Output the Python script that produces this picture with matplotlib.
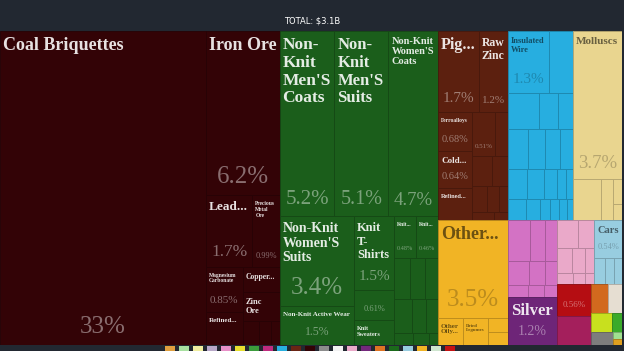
import matplotlib
matplotlib.use("Agg")
import matplotlib.pyplot as plt
import numpy as np
from matplotlib.patches import Rectangle
from matplotlib.colors import to_rgb
from matplotlib.font_manager import FontProperties

# ---- data: share of total exports (%) ----
coal = ("Coal Briquettes", 33.0)
iron = ("Iron Ore", 6.2)
lead_row = [("Lead...", 1.7), ("Precious Metal Ore", 0.99)]
magnesium_col = [("Magnesium Carbonate", 0.85), ("Refined...", 0.62)]
copper = ("Copper...", 0.48)
zinc = ("Zinc Ore", 0.55)
zinc_small = [0.2, 0.15, 0.1]

textile_top = [("Non-Knit Men'S Coats", 5.2), ("Non-Knit Men'S Suits", 5.1),
               ("Non-Knit Women'S Coats", 4.7)]
suits_col = [("Non-Knit Women'S Suits", 3.4), ("Non-Knit Active Wear", 1.5)]
knit_col = [("Knit T-Shirts", 1.5), ("", 0.61), ("Knit Sweaters", 0.5)]
knit_row = [("Knit...", 0.48), ("Knit...", 0.46)]
knit_small = [[0.35, 0.3, 0.28], [0.3, 0.25, 0.2], [0.12, 0.1, 0.06]]

metals_top = [("Pig...", 1.7), ("Raw Zinc", 1.2)]
metals_left = [("Ferroalloys", 0.68), ("Cold...", 0.64), ("Refined...", 0.56)]
metals_mid = [("", 0.51), ("", 0.29)]
metals_small = [[0.3, 0.25], [0.2, 0.15, 0.12], [0.1, 0.06]]

machinery_top = [("Insulated Wire", 1.3), ("Electrical Transformers", 0.76)]
vehicles = ("Large Construction Vehicles", 0.58)
machinery_small = [[0.35, 0.28], [0.4, 0.35, 0.3, 0.25], [0.3, 0.25, 0.2, 0.15, 0.1],
                   [0.2, 0.15, 0.12, 0.1, 0.08, 0.07]]

molluscs = ("Molluscs", 3.7)
animal_row = [("Crustaceans", 0.59), ("Fish Fillets", 0.25)]
animal_small = [0.12, 0.08]

other = ("Other...", 3.5)
other_row = [("Other Oily...", 0.35), ("Dried Legumes", 0.35)]
other_small = [0.15, 0.13]

hydrogen = ("Hydrogen", 0.45)
chem_small = [[0.3, 0.25], [0.25, 0.2, 0.15], [0.12, 0.1, 0.08]]
silver = ("Silver", 1.2)
plastics_small = [[0.3, 0.22], [0.2, 0.16, 0.12], [0.09, 0.07, 0.05]]
cars = ("Cars", 0.54)
cars_small = [0.15, 0.12, 0.1]
red_item = ("", 0.56)
magenta_item = 0.5
small_items = [0.25, 0.2, 0.2, 0.1, 0.15, 0.035, 0.025]

legend_colors = ["#e0a040", "#a8e0a0", "#f0eea0", "#b8a8c8", "#e890c8", "#e8e030",
                 "#3c9c3c", "#c02c80", "#28b0e0", "#6a2414", "#330306", "#8c8c8c",
                 "#f2f2f2", "#eaa9c9", "#74287c", "#e07424", "#1b6a1b", "#98cde0",
                 "#f1b425", "#cfe6cf", "#c41414"]

# ---- colours ----
MAROON, GREEN, BROWN, BLUE, TAN = "#330306", "#1b5e1b", "#5c200f", "#27aee0", "#e9d58f"
YELLOW, PINK, PURPLE, LPINK, LBLUE = "#f1b425", "#d372c4", "#6e2578", "#eaa9c9", "#98cde0"
RED, MAGENTA = "#b50d12", "#a41f5c"
SMALL_COLS = ["#d2691e", "#e6ded2", "#c8e01e", "#3aaa2a", "#7d7d7d", "#a0e090", "#e0a020"]


def L(item, color):
    return {"name": item[0], "value": item[1], "color": color}


def F(vals, color, orient="h"):
    return (orient, [{"name": None, "value": v, "color": color} for v in vals])


def G(orient, *kids):
    return (orient, list(kids))


def size(n):
    return n["value"] if isinstance(n, dict) else sum(size(k) for k in n[1])


minerals = G("h", L(coal, MAROON),
             G("v", L(iron, MAROON),
               G("h", *[L(i, MAROON) for i in lead_row]),
               G("h", G("v", *[L(i, MAROON) for i in magnesium_col]),
                 G("v", L(copper, MAROON), G("v", L(zinc, MAROON), F(zinc_small, MAROON))))))

textiles = G("v", G("h", *[L(i, GREEN) for i in textile_top]),
             G("h", G("v", *[L(i, GREEN) for i in suits_col]),
               G("v", *[L(i, GREEN) for i in knit_col]),
               G("v", G("h", *[L(i, GREEN) for i in knit_row]),
                 *[F(r, GREEN) for r in knit_small])))

metals = G("v", G("h", *[L(i, BROWN) for i in metals_top]),
           G("h", G("v", *[L(i, BROWN) for i in metals_left]),
             G("v", G("h", *[L(i, BROWN) for i in metals_mid]),
               *[F(r, BROWN) for r in metals_small])))

machinery = G("v", G("h", *[L(i, BLUE) for i in machinery_top]),
              G("h", L(vehicles, BLUE), *F(machinery_small[0], BLUE)[1]),
              *[F(r, BLUE) for r in machinery_small[1:]])

animals = G("v", L(molluscs, TAN),
            G("h", *[L(i, TAN) for i in animal_row], F(animal_small, TAN, "v")))

other_grp = G("v", L(other, YELLOW),
              G("h", *[L(i, YELLOW) for i in other_row], F(other_small, YELLOW, "v")))

chem = G("v", G("v", G("h", L(hydrogen, PINK), *F(chem_small[0], PINK)[1]),
                *[F(r, PINK) for r in chem_small[1:]]),
         L(silver, PURPLE))

s = [{"name": None, "value": v, "color": c} for v, c in zip(small_items, SMALL_COLS)]
rest = G("v", G("h", G("v", *[F(r, LPINK) for r in plastics_small]),
                G("v", L(cars, LBLUE), F(cars_small, LBLUE))),
         G("h", G("v", L(red_item, RED), {"name": None, "value": magenta_item, "color": MAGENTA}),
           G("v", G("h", s[0], s[1]), G("h", s[2], s[3]), G("h", s[4], G("v", s[5], s[6])))))

root = G("h", minerals, textiles,
         G("v", G("h", metals, machinery, animals), G("h", other_grp, chem, rest)))

W, H = 622, 314
cells = []


def layout(n, x, y, w, h):
    if isinstance(n, dict):
        cells.append((x, y, w, h, n))
        return
    orient, kids = n
    tot = sum(size(k) for k in kids)
    pos = 0.0
    for k in kids:
        f = size(k) / tot
        if orient == "h":
            layout(k, x + pos * w, y, f * w, h)
        else:
            layout(k, x, y + pos * h, w, f * h)
        pos += f


layout(root, 0, 0, W, H)

# ---- figure ----
BG = "#222831"
fig = plt.figure(figsize=(6.24, 3.51), dpi=100, facecolor=BG)
back = fig.add_axes([0, 0, 1, 1])
back.set_xlim(0, 624)
back.set_ylim(351, 0)
back.axis("off")
back.text(312, 21, "TOTAL: $3.1B", color="white", fontsize=6, ha="center", va="center",
          family=["Liberation Sans Narrow", "DejaVu Sans"])
for i, c in enumerate(legend_colors):
    back.add_patch(Rectangle((165 + i * 14, 346), 10, 10, facecolor=c, edgecolor="none"))

ax = fig.add_axes([0, 6 / 351, W / 624, H / 351])
ax.set_xlim(0, W)
ax.set_ylim(H, 0)
ax.axis("off")

renderer = fig.canvas.get_renderer()
SERIF = "Liberation Serif"


def mix(c, t, a):
    c = np.array(to_rgb(c))
    return tuple(c * (1 - a) + np.array(t) * a)


def is_dark(c):
    r, g, b = to_rgb(c)
    return 0.299 * r + 0.587 * g + 0.114 * b < 0.5


def text_w(s, fs, weight):
    prop = FontProperties(family=SERIF, size=fs, weight=weight)
    w, h, d = renderer.get_text_width_height_descent(s, prop, ismath=False)
    return w


def tokens(s):
    out = []
    for word in s.split(" "):
        parts = word.split("-")
        for i, p in enumerate(parts):
            if i < len(parts) - 1:
                out.append((p + "-", False))
            else:
                out.append((p, True))
    return out


def wrap(s, fs, maxw):
    lines, line = [], ""
    for tok, space in tokens(s):
        if text_w(tok, fs, "bold") > maxw:
            return None
        cand = line + tok
        if line == "" or text_w(cand, fs, "bold") <= maxw:
            line = cand
        else:
            lines.append(line.rstrip())
            line = tok
        if space:
            line += " "
    lines.append(line.rstrip())
    return lines


LS = 1.15
for x, y, w, h, n in cells:
    fc = n["color"]
    ax.add_patch(Rectangle((x, y), w, h, facecolor=fc, edgecolor=mix(fc, (0, 0, 0), 0.22),
                           lw=0.6))
    if n["name"] is None:
        continue
    dark = is_dark(fc)
    lab_c = mix(fc, (1, 1, 1), 0.88) if dark else mix(fc, (0, 0, 0), 0.55)
    pct_c = mix(fc, (1, 1, 1), 0.42) if dark else mix(fc, (0, 0, 0), 0.22)
    pct = format(n["value"], ".2g") + "%"
    pfs = 18.0
    while pfs >= 4.5:
        if text_w(pct, pfs, "normal") <= 0.8 * w and pfs * 1.389 <= 0.3 * h:
            break
        pfs -= 0.5
    show_pct = pfs >= 4.5 and (h >= 35 or not n["name"])
    pct_h = pfs * 1.389 + 6 if show_pct else 0
    fs, lines = 13.0, None
    while n["name"] and fs >= 3.5:
        lines = wrap(n["name"], fs, w - 6)
        if lines and fs * 1.389 * (LS * (len(lines) - 1) + 1.1) <= h - pct_h - 10:
            break
        lines = None
        fs -= 0.5
    if lines:
        ax.text(x + 3, y + 6, "\n".join(lines), ha="left", va="top", fontsize=fs,
                family=SERIF, weight="bold", color=lab_c, linespacing=LS)
    if show_pct and (lines or not n["name"]):
        ax.text(x + w / 2, y + h - 7, pct, ha="center", va="bottom", fontsize=pfs,
                family=SERIF, color=pct_c)

fig.savefig("out.png", dpi=100, facecolor=BG)
